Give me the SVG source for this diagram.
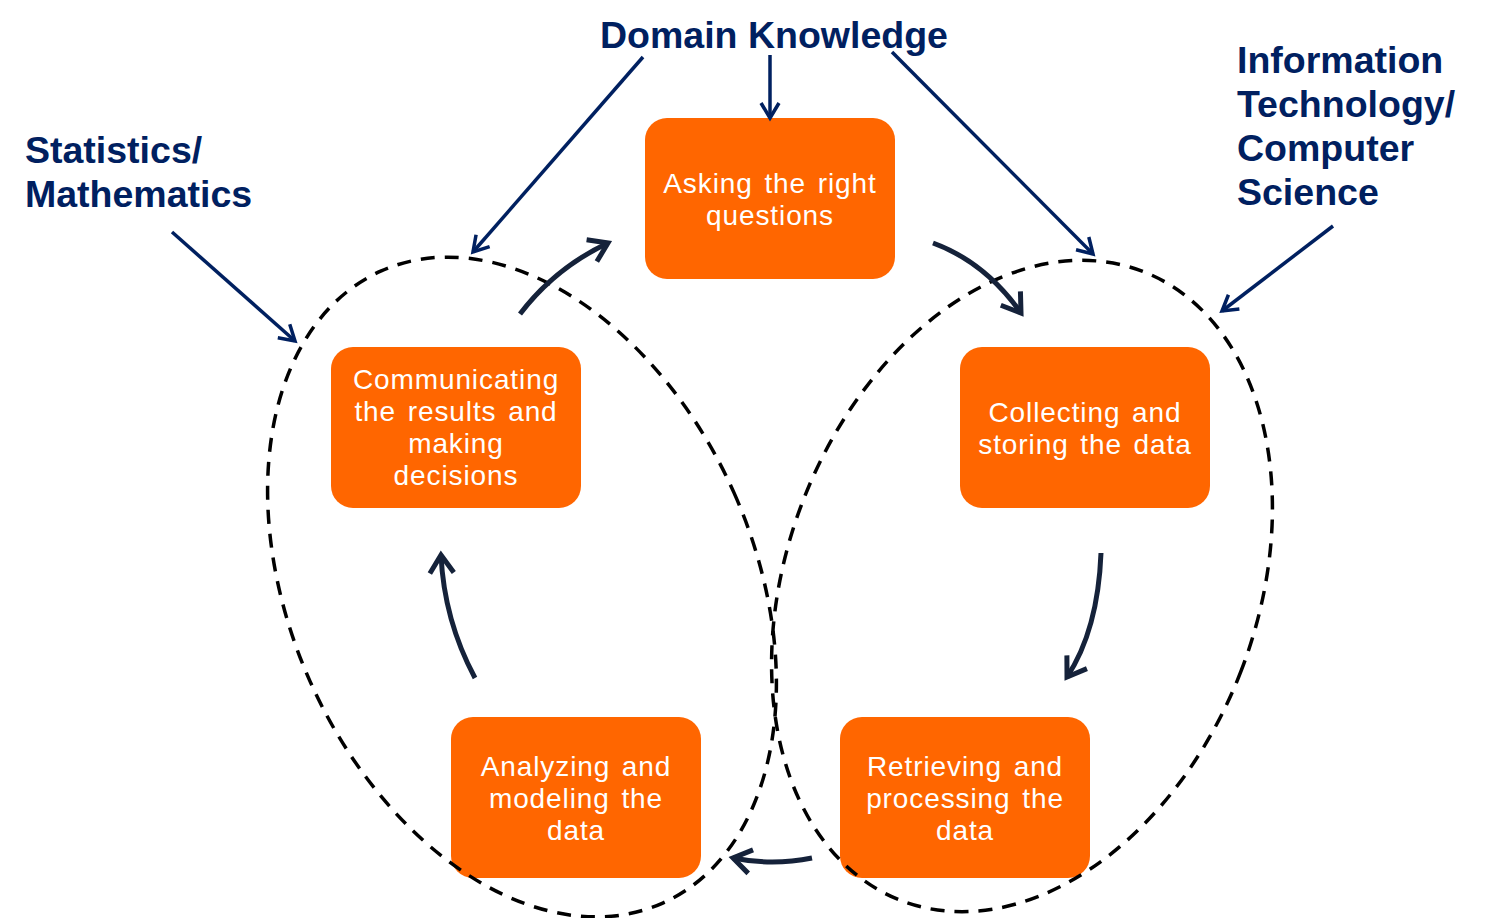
<svg xmlns="http://www.w3.org/2000/svg" width="1490" height="918" viewBox="0 0 1490 918">
  <style>
    .box { fill: #FF6600; }
    .btxt { fill: #FFFFFF; font-family: "Liberation Sans", Arial, sans-serif; font-size: 28px; letter-spacing: 0.9px; word-spacing: 3px; text-anchor: middle; }
    .head { fill: #002060; font-family: "Liberation Sans", Arial, sans-serif; font-size: 37.5px; font-weight: bold; }
    .ell { fill: none; stroke: #000000; stroke-width: 3.5; stroke-dasharray: 14 10; }
    .nav { fill: none; stroke: #002060; stroke-width: 3.5; marker-end: url(#navHead); }
    .cyc { fill: none; stroke: #15223A; stroke-width: 5; marker-end: url(#cycHead); }
  </style>
  <defs>
    <marker id="navHead" markerUnits="userSpaceOnUse" viewBox="-20 -12 24 24" markerWidth="24" markerHeight="24" refX="0" refY="0" orient="auto">
      <path d="M-15,-9 L0,0 L-15,9" fill="none" stroke="#002060" stroke-width="3.5"/>
    </marker>
    <marker id="cycHead" markerUnits="userSpaceOnUse" viewBox="-25 -15 30 30" markerWidth="30" markerHeight="30" refX="0" refY="0" orient="auto">
      <path d="M-18,-12 L0,0 L-18,12" fill="none" stroke="#15223A" stroke-width="5"/>
    </marker>
  </defs>
  <rect width="1490" height="918" fill="#FFFFFF"/>

  <g id="label-domain">
    <text class="head" x="600" y="48">Domain Knowledge</text>
  </g>
  <g id="label-stats">
    <text class="head" x="25" y="163">Statistics/</text>
    <text class="head" x="25" y="207">Mathematics</text>
  </g>
  <g id="label-it">
    <text class="head" x="1237" y="73">Information</text>
    <text class="head" x="1237" y="117">Technology/</text>
    <text class="head" x="1237" y="161">Computer</text>
    <text class="head" x="1237" y="205">Science</text>
  </g>

  <g id="node-asking">
    <rect class="box" x="645" y="118" width="250" height="161" rx="22"/>
    <text class="btxt" x="770" y="193">Asking the right</text>
    <text class="btxt" x="770" y="225">questions</text>
  </g>
  <g id="node-communicating">
    <rect class="box" x="331" y="347" width="250" height="161" rx="22"/>
    <text class="btxt" x="456" y="389">Communicating</text>
    <text class="btxt" x="456" y="421">the results and</text>
    <text class="btxt" x="456" y="453">making</text>
    <text class="btxt" x="456" y="485">decisions</text>
  </g>
  <g id="node-collecting">
    <rect class="box" x="960" y="347" width="250" height="161" rx="22"/>
    <text class="btxt" x="1085" y="422">Collecting and</text>
    <text class="btxt" x="1085" y="454">storing the data</text>
  </g>
  <g id="node-analyzing">
    <rect class="box" x="451" y="717" width="250" height="161" rx="22"/>
    <text class="btxt" x="576" y="776">Analyzing and</text>
    <text class="btxt" x="576" y="808">modeling the</text>
    <text class="btxt" x="576" y="840">data</text>
  </g>
  <g id="node-retrieving">
    <rect class="box" x="840" y="717" width="250" height="161" rx="22"/>
    <text class="btxt" x="965" y="776">Retrieving and</text>
    <text class="btxt" x="965" y="808">processing the</text>
    <text class="btxt" x="965" y="840">data</text>
  </g>

  <g id="regions">
    <ellipse class="ell" cx="522" cy="587" rx="232" ry="346" transform="rotate(-24 522 587)"/>
    <ellipse class="ell" cx="1022" cy="586" rx="235" ry="337" transform="rotate(21 1022 586)"/>
  </g>

  <g id="connectors">
    <line class="nav" x1="643" y1="57" x2="473" y2="252"/>
    <line class="nav" x1="770" y1="55" x2="770" y2="118"/>
    <line class="nav" x1="892" y1="52" x2="1093" y2="254"/>
    <line class="nav" x1="172" y1="232" x2="295" y2="341"/>
    <line class="nav" x1="1333" y1="226" x2="1222" y2="311"/>
    <path class="cyc" d="M933,243 Q985,262 1021,313"/>
    <path class="cyc" d="M1101,553 Q1098,630 1067,677"/>
    <path class="cyc" d="M812,858 Q772,866 733,858"/>
    <path class="cyc" d="M475,678 Q444,620 441,555"/>
    <path class="cyc" d="M520,314 Q555,268 608,243"/>
  </g>
</svg>
